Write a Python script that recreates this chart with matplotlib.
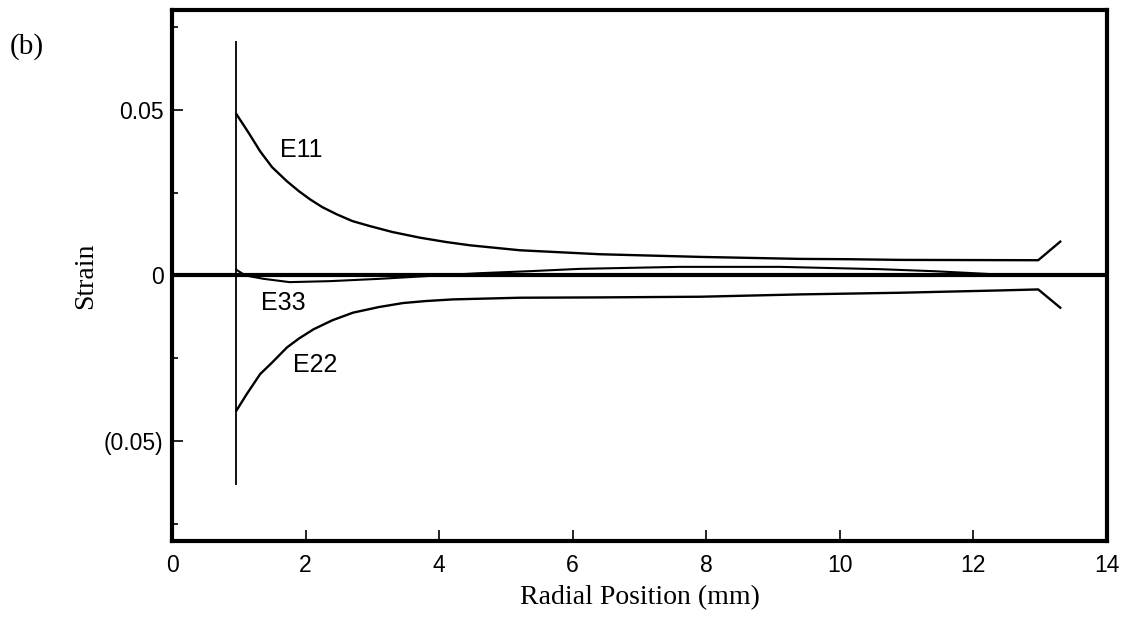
import matplotlib
matplotlib.use("Agg")
import matplotlib.pyplot as plt
from matplotlib.ticker import FixedLocator

# Radial strain profiles
e11_x = [0.965, 1.15, 1.32, 1.5, 1.72, 1.9, 2.07, 2.25, 2.47, 2.7, 2.96, 3.3, 3.71, 4.1, 4.46, 5.21, 6.41, 7.91, 9.4, 10.15, 10.9, 12.97, 13.3]
e11_y = [0.0486, 0.0429, 0.0374, 0.0326, 0.0284, 0.0254, 0.0229, 0.0206, 0.0184, 0.0164, 0.0149, 0.0131, 0.0114, 0.0101, 0.0091, 0.0076, 0.0064, 0.0056, 0.0050, 0.0049, 0.0047, 0.0046, 0.0102]

e22_x = [0.965, 1.12, 1.32, 1.5, 1.72, 1.9, 2.12, 2.4, 2.71, 3.1, 3.46, 3.8, 4.21, 5.21, 6.41, 7.91, 9.4, 10.9, 12.4, 12.97, 13.3]
e22_y = [-0.0407, -0.0357, -0.0297, -0.0262, -0.0217, -0.0190, -0.0162, -0.0135, -0.0112, -0.0095, -0.0083, -0.0077, -0.0072, -0.0067, -0.0066, -0.0064, -0.0057, -0.0052, -0.0045, -0.0042, -0.0097]

e33_x = [0.965, 1.1, 1.37, 1.76, 2.37, 3.11, 3.8, 4.61, 5.36, 6.11, 7.6, 9.1, 10.6, 11.4, 11.9, 12.65, 12.97]
e33_y = [0.0017, 0.0, -0.0010, -0.0020, -0.0017, -0.0010, -0.0002, 0.0007, 0.0013, 0.0020, 0.0026, 0.0026, 0.0019, 0.0013, 0.0008, 0.0, 0.0]

# Inner boundary marker
interface_x = 0.965
interface_ymin = -0.063
interface_ymax = 0.0708

x_ticks = [0, 2, 4, 6, 8, 10, 12, 14]
y_ticks = [-0.05, 0.0, 0.05]
y_tick_labels = ["(0.05)", "0", "0.05"]
y_minor = [-0.075, -0.025, 0.025, 0.075]

labels = ["E11", "E22", "E33"]
label_pos = [(1.93, 0.0377), (2.14, -0.0270), (1.66, -0.0082)]

sans = "Liberation Sans"
serif = "Liberation Serif"

fig = plt.figure(figsize=(11.25, 6.23), dpi=100)
ax = fig.add_axes([0.1529, 0.1316, 0.8311, 0.8524])

ax.axhline(0, color="black", lw=3.0, zorder=2)
ax.vlines(interface_x, interface_ymin, interface_ymax, color="black", lw=1.3, zorder=3)
ax.plot(e11_x, e11_y, color="black", lw=1.7, zorder=3, solid_joinstyle="round")
ax.plot(e22_x, e22_y, color="black", lw=1.7, zorder=3, solid_joinstyle="round")
ax.plot(e33_x, e33_y, color="black", lw=1.5, zorder=3, solid_joinstyle="round")

for txt, (lx, ly) in zip(labels, label_pos):
    ax.text(lx, ly, txt, fontsize=18, family=sans, ha="center", va="center")

ax.set_xlim(0, 14)
ax.set_ylim(-0.08, 0.08)
ax.set_xticks(x_ticks)
ax.set_xticklabels([str(v) for v in x_ticks], family=sans, fontsize=16.5)
ax.set_yticks(y_ticks)
ax.set_yticklabels(y_tick_labels, family=sans, fontsize=16.5)
ax.yaxis.set_minor_locator(FixedLocator(y_minor))

ax.tick_params(axis="both", which="major", direction="in", length=8, width=1.2)
ax.tick_params(axis="x", which="major", pad=9)
ax.tick_params(axis="y", which="major", pad=6)
ax.tick_params(axis="y", which="minor", direction="in", length=4, width=1.2)

for sp in ax.spines.values():
    sp.set_linewidth(3.0)

ax.set_xlabel("Radial Position (mm)", family=serif, fontsize=20, labelpad=6)
ax.set_ylabel("Strain", family=serif, fontsize=20, labelpad=4)

fig.text(0.009, 0.925, "(b)", family=serif, fontsize=21, ha="left", va="center")

fig.savefig("out.png", dpi=100)
